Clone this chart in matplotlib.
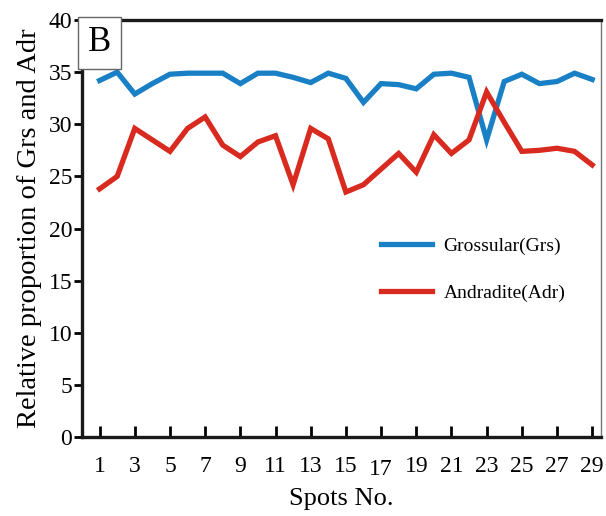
import numpy as np
import matplotlib
matplotlib.use("Agg")
import matplotlib.pyplot as plt
from matplotlib.transforms import ScaledTranslation

plt.rcParams['font.family'] = ['Liberation Serif', 'DejaVu Serif']

spots = list(range(1, 30))
grs = [34.2, 35.0, 32.9, 33.9, 34.8, 34.9, 34.9, 34.9, 33.9, 34.9,
       34.9, 34.5, 34.0, 34.9, 34.4, 32.1, 33.9, 33.8, 33.4, 34.8,
       34.9, 34.5, 28.5, 34.1, 34.8, 33.9, 34.1, 34.9, 34.3]
adr = [23.8, 25.0, 29.6, 28.5, 27.4, 29.6, 30.7, 28.0, 26.9, 28.3,
       28.9, 24.2, 29.6, 28.6, 23.5, 24.2, 25.7, 27.2, 25.4, 29.0,
       27.2, 28.5, 33.1, 30.2, 27.4, 27.5, 27.7, 27.4, 26.1]
xticks = list(range(1, 30, 2))
yticks = list(range(0, 45, 5))

fig = plt.figure(figsize=(6.06, 5.16), dpi=100)
ax = fig.add_axes([0.1353, 0.1531, 0.8564, 0.8081])

ax.plot(spots, grs, color='#1a80c6', lw=3.8, label='Grossular(Grs)', solid_joinstyle='miter')
ax.plot(spots, adr, color='#d92a1f', lw=3.8, label='Andradite(Adr)', solid_joinstyle='miter')

ax.set_xlim(0.0, 29.5)
ax.set_ylim(0, 40)
ax.set_xticks(xticks)
ax.set_xticklabels([str(t) for t in xticks])
ax.set_yticks(yticks)

for side in ['left', 'bottom', 'top']:
    ax.spines[side].set_linewidth(2.4)
    ax.spines[side].set_color('#1a1a1a')
ax.spines['right'].set_linewidth(1.0)
ax.spines['right'].set_color('#777777')

ax.tick_params(axis='x', direction='in', length=8, width=2, pad=14, labelsize=17)
ax.tick_params(axis='y', direction='out', length=6, width=2, pad=1, labelsize=17)
ax.tick_params(top=False, right=False)

# the "17" label sits a little lower in the original
for tick in ax.xaxis.get_major_ticks():
    if tick.label1.get_text() == '17':
        tick.label1.set_transform(tick.label1.get_transform()
                                  + ScaledTranslation(0, -1.5 / 72, fig.dpi_scale_trans))

ax.set_xlabel('Spots No.', fontsize=19, labelpad=6)
ax.set_ylabel('Relative proportion of Grs and Adr', fontsize=20.5, labelpad=5)

ax.text(0.012, 0.985, 'B', transform=ax.transAxes, fontsize=25, va='top', ha='left',
        bbox=dict(boxstyle='square,pad=0.28', facecolor='white', edgecolor='#666666', lw=1))

ax.legend(loc='upper left', bbox_to_anchor=(0.543, 0.52), frameon=False, fontsize=14,
          handlelength=2.6, labelspacing=1.5, handletextpad=0.6)

fig.savefig('out.png', dpi=100)
